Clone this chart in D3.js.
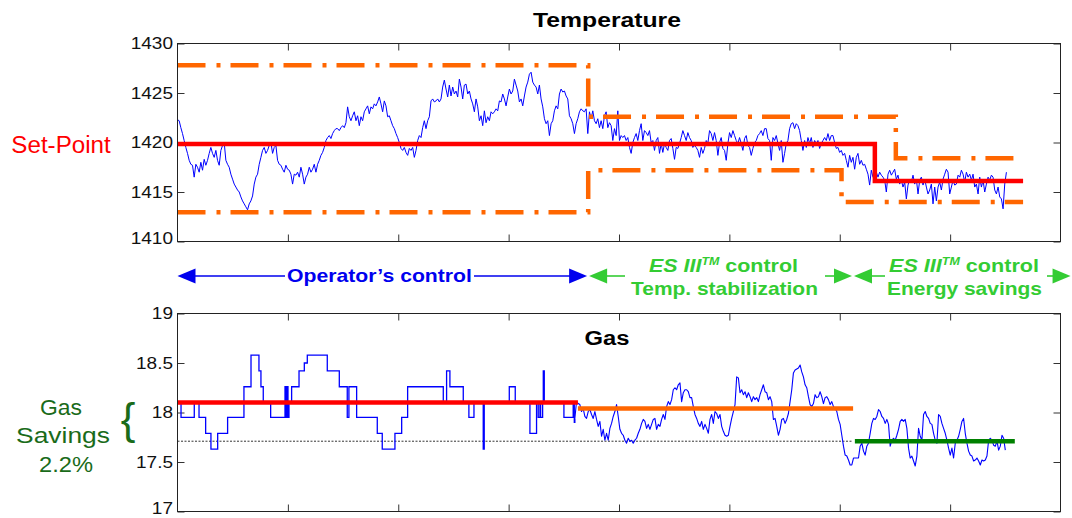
<!DOCTYPE html>
<html><head><meta charset="utf-8">
<script src="https://cdn.jsdelivr.net/npm/d3@7"></script>
<style>
html,body{margin:0;padding:0;background:#fff;}
svg{display:block;font-family:"Liberation Sans",Arial,Helvetica,sans-serif;}
</style></head><body>
<svg id="chart" width="1072" height="518"></svg>
<script>
// ---------------- DATA ----------------
// Temperature (evenly sampled between tempStart and tempEnd, x in time units 0..8)
const tempStart = 0.0, tempEnd = 7.51;
const tempValues = [
1422.3,1422.2,1421.5,1420.9,1420.2,1419.5,1418.9,1418.2,1417.8,1417.7,
1416.5,1417.8,1417.5,1417.0,1418.0,1417.2,1418.3,1417.7,1418.2,1418.9,
1419.5,1418.9,1418.5,1419.2,1418.2,1417.7,1419.2,1419.7,1420.0,1418.2,
1417.8,1417.5,1416.8,1416.3,1415.8,1415.5,1415.2,1415.0,1414.5,1414.1,
1413.8,1413.5,1413.2,1413.8,1414.1,1414.6,1415.8,1416.5,1416.8,1417.8,
1418.5,1419.2,1419.5,1418.9,1419.2,1419.7,1420.0,1418.9,1419.5,1419.7,
1418.2,1417.8,1417.7,1417.3,1417.0,1417.7,1417.3,1417.2,1416.8,1415.8,
1416.8,1416.7,1417.0,1416.5,1417.5,1416.8,1415.8,1416.5,1416.8,1417.5,
1417.0,1417.3,1417.8,1417.0,1417.8,1418.2,1418.7,1419.0,1419.5,1420.2,
1420.5,1420.7,1420.4,1420.9,1421.2,1421.4,1421.4,1421.2,1421.5,1421.7,
1421.5,1422.0,1423.6,1422.6,1422.2,1422.7,1423.1,1422.2,1422.7,1421.7,
1422.6,1422.2,1423.1,1423.4,1423.7,1422.9,1423.6,1423.4,1423.9,1423.7,
1424.1,1424.6,1423.9,1423.1,1424.2,1423.7,1422.6,1422.7,1422.2,1421.7,
1421.4,1420.9,1420.5,1420.0,1419.4,1419.2,1419.5,1419.0,1418.7,1419.4,
1419.2,1419.5,1418.5,1419.2,1420.2,1420.7,1420.5,1421.5,1422.2,1421.4,
1422.2,1422.6,1424.2,1424.4,1424.1,1424.2,1424.4,1424.1,1424.4,1425.6,
1426.3,1425.4,1424.6,1425.8,1424.7,1425.6,1424.9,1425.2,1424.6,1426.4,
1425.6,1424.4,1425.8,1425.9,1424.9,1425.2,1424.4,1423.9,1423.1,
1424.4,1423.6,1422.2,1422.7,1421.7,1423.2,1422.0,1422.6,1422.2,1423.1,
1422.9,1423.1,1423.4,1423.2,1424.2,1424.1,1424.9,1424.4,1423.7,1424.6,
1425.4,1424.9,1425.2,1426.4,1425.8,1425.2,1424.1,1424.4,1423.7,1424.7,
1425.6,1426.1,1426.9,1427.1,1426.1,1425.8,1425.6,1424.9,1425.8,1424.4,
1423.6,1422.4,1421.9,1422.2,1420.7,1421.9,1422.2,1423.2,1423.7,1423.4,
1424.9,1425.4,1425.1,1425.2,1424.7,1424.4,1422.7,1422.4,1421.9,1420.9,
1421.9,1422.4,1423.1,1423.4,1423.2,1423.1,1423.4,1420.9,1423.1,1422.4,
1423.2,1422.2,1421.9,1422.4,1421.5,1422.2,1421.4,1422.7,1423.1,1421.5,
1422.0,1421.7,1420.2,1421.4,1420.7,1423.2,1420.2,1420.7,1420.5,1420.7,
1420.2,1420.5,1419.5,1418.9,1420.0,1420.5,1420.9,1420.2,1421.2,1421.9,
1420.2,1421.2,1421.0,1420.7,1421.2,1420.0,1420.2,1419.2,1420.2,1420.5,
1418.9,1419.9,1419.0,1419.9,1419.5,1419.2,1420.2,1420.4,1419.4,1418.3,
1419.5,1419.4,1419.9,1420.5,1421.2,1420.7,1420.2,1421.0,1420.5,1420.2,
1419.5,1419.7,1419.5,1419.2,1418.5,1419.5,1418.9,1419.4,1420.2,1419.9,
1421.2,1420.9,1420.2,1421.0,1420.2,1418.7,1420.0,1420.5,1419.4,1419.2,
1418.2,1419.9,1421.0,1420.5,1421.2,1420.7,1420.2,1419.9,1420.5,1419.9,
1419.2,1420.4,1420.7,1419.7,1419.5,1418.7,1419.4,1420.0,1420.2,1420.7,
1420.9,1421.2,1420.7,1421.4,1421.4,1420.4,1420.2,
1418.2,1420.5,1420.2,1420.7,1419.9,1419.2,1420.2,1418.0,1418.9,1419.9,
1420.2,1421.4,1421.9,1422.0,1421.4,1421.9,1421.7,1421.2,1420.2,1419.2,
1420.2,1419.5,1420.5,1419.9,1420.5,1419.5,1420.2,1419.9,1420.2,1419.4,
1419.9,1420.2,1420.5,1420.2,1420.9,1420.2,1420.7,1420.7,1420.0,1419.4,
1419.5,1419.0,1419.2,1418.7,1418.9,1418.2,1417.5,1418.7,1418.0,1418.5,
1417.3,1418.5,1418.9,1417.8,1418.2,1417.7,1417.8,1417.3,1416.8,1415.7,
1417.2,1416.5,1416.7,1417.0,1416.5,1417.0,1416.7,1416.5,1416.2,1415.0,
1416.8,1417.2,1416.7,1417.0,1417.3,1416.3,1416.7,1415.8,1416.2,1415.5,
1416.0,1414.3,1415.7,1416.3,1416.0,1416.7,1415.8,1416.3,1414.8,1416.2,
1416.5,1415.7,1416.3,1415.5,1414.8,1415.2,1415.8,1413.8,1415.5,1414.1,
1415.5,1416.0,1415.2,1416.3,1416.8,1417.3,1417.0,1414.8,1415.5,1416.2,
1415.7,1415.8,1416.7,1416.5,1417.2,1416.8,1416.0,1417.0,1416.5,1416.8,
1416.2,1416.8,1415.5,1415.8,1414.8,1416.5,1415.5,1416.2,1415.0,1415.8,
1416.5,1416.2,1416.7,1416.5,1415.2,1414.8,1415.5,1414.5,1414.3,1413.3,
1415.8,1417.0
];
// Set-point and control band (step functions: value holds from each time to the next)
const setPointT = [0, 6.318, 7.661];
const setPointV = [1419.85, 1416.1, 1416.1];
const upperBandT = [0, 3.721, 6.508, 7.661];
const upperBandV = [1427.8, 1422.6, 1418.4, 1418.4];
const lowerBandT = [0, 3.721, 6.016, 7.661];
const lowerBandV = [1412.95, 1417.2, 1414.0, 1414.0];
const tempTicks = [1410, 1415, 1420, 1425, 1430];
const timeTicks = [1, 2, 3, 4, 5, 6, 7];

// Gas: operator's period (step values) then ES III period (evenly sampled)
const gasStepT = [0,0.032,0.152,0.195,0.255,0.303,0.364,0.454,0.602,0.666,0.738,0.756,0.777,0.844,0.974,0.983,0.992,1.001,1.010,1.034,1.101,1.149,1.176,1.357,1.466,1.538,1.553,1.623,1.810,1.855,1.970,2.031,2.085,2.408,2.438,2.468,2.589,2.640,2.686,2.770,2.779,3.006,3.060,3.193,3.253,3.268,3.284,3.290,3.308,3.314,3.323,3.501,3.585,3.595];
const gasStepV = [18.10,17.95,18.10,17.95,17.79,17.63,17.79,17.95,18.26,18.58,18.42,18.26,18.10,17.95,18.26,17.95,18.26,17.95,18.10,18.26,18.42,18.50,18.58,18.42,18.26,17.95,18.26,17.95,17.79,17.63,17.79,17.95,18.26,18.10,18.42,18.26,18.10,17.95,18.10,17.63,18.10,18.26,18.10,17.79,18.10,17.95,18.10,17.95,18.10,18.42,18.10,17.95,18.10,17.90];
const gasNoisyStart = 3.60, gasNoisyEnd = 7.50;
const gasNoisy = [
17.94,18.11,18.09,18.08,18.01,18.04,17.96,17.94,18.01,18.03,
17.98,17.94,18.01,17.93,17.86,17.91,17.76,17.83,17.72,17.79,
17.72,17.84,17.89,17.96,18.01,18.08,17.96,17.83,17.79,17.77,
17.72,17.69,17.74,17.71,17.72,17.69,17.72,17.74,17.79,17.83,
17.89,17.93,17.91,17.84,17.88,17.83,17.88,17.93,17.94,17.83,
17.88,17.86,17.93,17.98,17.93,18.06,18.11,18.08,18.13,18.23,
18.25,18.23,18.28,18.30,18.11,18.20,18.23,18.23,18.21,18.15,
18.15,18.06,17.98,17.94,17.89,17.86,17.91,17.83,17.88,17.84,
17.79,17.93,17.98,17.89,18.01,17.99,17.94,17.98,17.86,17.81,
17.77,17.76,17.77,17.86,17.94,18.01,18.08,18.36,18.35,18.20,
18.23,18.18,18.21,18.15,18.20,18.16,18.11,18.16,18.13,18.15,
18.11,18.18,18.23,18.28,18.21,18.20,18.13,18.16,
18.11,17.93,17.94,17.86,17.77,17.83,17.93,17.94,17.89,17.93,
17.99,18.11,18.23,18.40,18.43,18.44,18.45,18.48,18.41,18.36,
18.28,18.25,18.16,18.08,18.06,18.09,18.18,18.15,18.16,18.21,
18.16,18.09,18.15,18.16,18.13,18.08,18.11,18.06,18.04,18.01,
17.93,17.88,17.77,17.66,17.57,17.56,17.52,17.47,17.47,17.54,
17.54,17.54,17.54,17.66,17.69,17.61,17.57,17.66,17.69,17.79,
17.89,17.94,17.93,17.96,18.03,18.01,17.96,17.94,17.89,17.93,
17.88,17.66,17.72,17.74,17.72,17.77,17.83,17.91,17.93,17.91,
17.93,17.84,17.64,17.54,17.56,17.51,17.46,17.56,17.84,17.76,
17.72,17.98,18.01,17.96,17.94,17.89,17.88,17.79,17.72,17.69,
17.98,17.96,17.89,17.84,17.79,17.72,17.64,17.57,17.64,17.54,
17.69,17.72,17.76,17.83,17.91,17.94,17.79,17.69,17.61,17.57,
17.56,17.51,17.52,17.54,17.51,17.47,17.52,17.51,17.52,17.56,
17.72,17.74,17.72,17.67,17.66,17.71,17.62,17.66,17.77,17.74,
17.62
];
// Average gas consumption per period
const gasAvgStart = [0, 3.628, 6.137];
const gasAvgEnd = [3.628, 6.121, 7.586];
const gasAvgValue = [18.10, 18.04, 17.71];
const gasSavingRef = 17.71, gasSavingRefEnd = 6.12;
const gasTicks = [17, 17.5, 18, 18.5, 19];
// Control phases (time boundaries)
const phaseBounds = [0, 3.72, 6.12, 8.1];

// ---------------- DRAWING ----------------
const svg = d3.select('#chart');
svg.append('rect').attr('width',1072).attr('height',518).attr('fill','#fff');

const x = d3.scaleLinear().domain([0, 8]).range([177.5, 1060.5]);
const yT = d3.scaleLinear().domain([1410, 1430]).range([241.5, 43.5]);
const yG = d3.scaleLinear().domain([17, 19]).range([511.5, 313.5]);

const BLUE = '#0000ff', RED = '#ff0000', ORANGE = '#ff6600', DKGREEN = '#008000';
const LGREEN = '#33cc33', LABELGREEN = '#1a6b1a';

function fitText(sel, cx, baseline, width) {
  sel.attr('text-anchor', 'middle').attr('x', 0).attr('y', 0);
  const w = sel.node().getBBox().width;
  const s = width / w;
  sel.attr('transform', `translate(${cx},${baseline}) scale(${s},1)`);
  return sel;
}

function axesFor(y, ticks, fmt) {
  const [yb, yt] = y.range();
  const [xl, xr] = x.range();
  const g = svg.append('g');
  const left = g.append('g').attr('transform', `translate(${xl},0)`)
    .call(d3.axisLeft(y).tickValues(ticks).tickSizeInner(-7).tickSizeOuter(0).tickPadding(4).tickFormat(fmt));
  left.selectAll('text').attr('font-size', 17).attr('fill', '#111')
    .attr('font-family', '"Liberation Sans",Arial,sans-serif')
    .attr('transform', 'scale(1.12,1)')
    .attr('dy', d => d === ticks[0] ? '0.1em' : '0.32em');
  g.append('g').attr('transform', `translate(${xr},0)`)
    .call(d3.axisRight(y).tickValues(ticks).tickSizeInner(-7).tickSizeOuter(0).tickFormat(''));
  g.append('g').attr('transform', `translate(0,${yb})`)
    .call(d3.axisBottom(x).tickValues(timeTicks).tickSizeInner(-7).tickSizeOuter(0).tickFormat(''));
  g.append('g').attr('transform', `translate(0,${yt})`)
    .call(d3.axisTop(x).tickValues(timeTicks).tickSizeInner(-7).tickSizeOuter(0).tickFormat(''));
  g.selectAll('.domain').remove();
  g.selectAll('.tick line').attr('stroke', '#333');
  return g;
}
function border(y) {
  const [yb, yt] = y.range();
  const [xl, xr] = x.range();
  svg.append('rect').attr('x', xl).attr('y', yt).attr('width', xr - xl).attr('height', yb - yt)
    .attr('fill', 'none').attr('stroke', '#222').attr('stroke-width', 1);
}

// ---------- Temperature panel ----------
axesFor(yT, tempTicks, d3.format('d'));
const tempStep = (tempEnd - tempStart) / (tempValues.length - 1);
const tempPts = tempValues.map((v, i) => [tempStart + i * tempStep, v]);
const lineT = d3.line().x(d => x(d[0])).y(d => yT(d[1]));
svg.append('path').datum(tempPts).attr('d', lineT)
  .attr('fill', 'none').attr('stroke', BLUE).attr('stroke-width', 1).attr('stroke-linejoin', 'round');

const stepT = d3.line().x(d => x(d[0])).y(d => yT(d[1])).curve(d3.curveStepAfter);
[[upperBandT, upperBandV], [lowerBandT, lowerBandV]].forEach(([ts, vs]) => {
  svg.append('path').datum(ts.map((t, i) => [t, vs[i]])).attr('d', stepT)
    .attr('fill', 'none').attr('stroke', ORANGE).attr('stroke-width', 4.5)
    .attr('stroke-dasharray', '28,11,4,10');
});
svg.append('path').datum(setPointT.map((t, i) => [t, setPointV[i]])).attr('d', stepT)
  .attr('fill', 'none').attr('stroke', RED).attr('stroke-width', 4.5);
border(yT);

fitText(svg.append('text').text('Temperature').attr('font-size', 20).attr('font-weight', 'bold').attr('fill', '#000'), 607, 27, 148);
fitText(svg.append('text').text('Set-Point').attr('font-size', 23).attr('fill', RED), 61, 153, 100);

// ---------- Gas panel ----------
axesFor(yG, gasTicks, d => String(d));
svg.append('line').attr('x1', x(0)).attr('x2', x(gasSavingRefEnd))
  .attr('y1', yG(gasSavingRef)).attr('y2', yG(gasSavingRef))
  .attr('stroke', '#333').attr('stroke-width', 1).attr('stroke-dasharray', '2,1.5');

const lineG = d3.line().x(d => x(d[0])).y(d => yG(d[1]));
const gasNoisyStep = (gasNoisyEnd - gasNoisyStart) / (gasNoisy.length - 1);
const gasNoisyPts = gasNoisy.map((v, i) => [gasNoisyStart + i * gasNoisyStep, v]);
const gasStepPts = gasStepT.map((t, i) => [t, gasStepV[i]]).concat([gasNoisyPts[0]]);
svg.append('path').datum(gasStepPts).attr('d', lineG.curve(d3.curveStepAfter))
  .attr('fill', 'none').attr('stroke', BLUE).attr('stroke-width', 1.3);
svg.append('path').datum(gasNoisyPts).attr('d', d3.line().x(d => x(d[0])).y(d => yG(d[1])))
  .attr('fill', 'none').attr('stroke', BLUE).attr('stroke-width', 1.1).attr('stroke-linejoin', 'round');

const avgColors = [RED, ORANGE, DKGREEN];
gasAvgValue.forEach((v, i) => {
  svg.append('line').attr('x1', x(gasAvgStart[i])).attr('x2', x(gasAvgEnd[i]))
    .attr('y1', yG(v)).attr('y2', yG(v)).attr('stroke', avgColors[i]).attr('stroke-width', 4.5);
});
border(yG);

fitText(svg.append('text').text('Gas').attr('font-size', 21).attr('font-weight', 'bold').attr('fill', '#000'), 607, 345, 45);

// Left gas savings label
fitText(svg.append('text').text('Gas').attr('font-size', 22).attr('fill', LABELGREEN), 61, 415, 42);
fitText(svg.append('text').text('Savings').attr('font-size', 22).attr('fill', LABELGREEN), 63, 443, 94);
fitText(svg.append('text').text('2.2%').attr('font-size', 22).attr('fill', LABELGREEN), 66, 472, 54);
svg.append('text').text('{').attr('x', 128).attr('y', 434).attr('text-anchor', 'middle')
  .attr('font-size', 44).attr('fill', LABELGREEN);

// ---------- Phase annotations ----------
const arrowY = 276;
function arrowHead(tipX, dir, color) {
  const L = 18, h = 7.5;
  svg.append('path').attr('d', `M${tipX},${arrowY}L${tipX - dir * L},${arrowY - h}L${tipX - dir * L},${arrowY + h}Z`)
    .attr('fill', color);
}
function phaseArrow(i, color, gapL, gapR) {
  const a = x(phaseBounds[i]) + (i > 0 ? 1 : 0);
  const b = x(phaseBounds[i + 1]) - 1;
  svg.append('line').attr('x1', a + 10).attr('x2', gapL).attr('y1', arrowY).attr('y2', arrowY)
    .attr('stroke', color).attr('stroke-width', 1.6);
  svg.append('line').attr('x1', gapR).attr('x2', b - 10).attr('y1', arrowY).attr('y2', arrowY)
    .attr('stroke', color).attr('stroke-width', 1.6);
  arrowHead(a, -1, color);
  arrowHead(b, 1, color);
}
phaseArrow(0, '#0000ee', 285, 474);
phaseArrow(1, LGREEN, 625, 825);
phaseArrow(2, LGREEN, 885, 1047);

fitText(svg.append('text').text('Operator\u2019s control').attr('font-size', 18).attr('font-weight', 'bold').attr('fill', '#0000ee'), 379.5, 282, 185);

function esLine(cx, width) {
  const t = svg.append('text').attr('font-size', 19).attr('font-weight', 'bold').attr('fill', LGREEN);
  t.append('tspan').attr('font-style', 'italic').text('ES III');
  t.append('tspan').attr('font-style', 'italic').attr('font-size', 11).attr('dy', -7).text('TM');
  t.append('tspan').attr('dy', 7).text(' control');
  fitText(t, cx, 272, width);
}
esLine(723.5, 149);
fitText(svg.append('text').text('Temp. stabilization').attr('font-size', 18).attr('font-weight', 'bold').attr('fill', LGREEN), 724.5, 294.5, 187);
esLine(964, 150);
fitText(svg.append('text').text('Energy savings').attr('font-size', 18).attr('font-weight', 'bold').attr('fill', LGREEN), 964.5, 294.5, 155);
</script>
</body></html>
